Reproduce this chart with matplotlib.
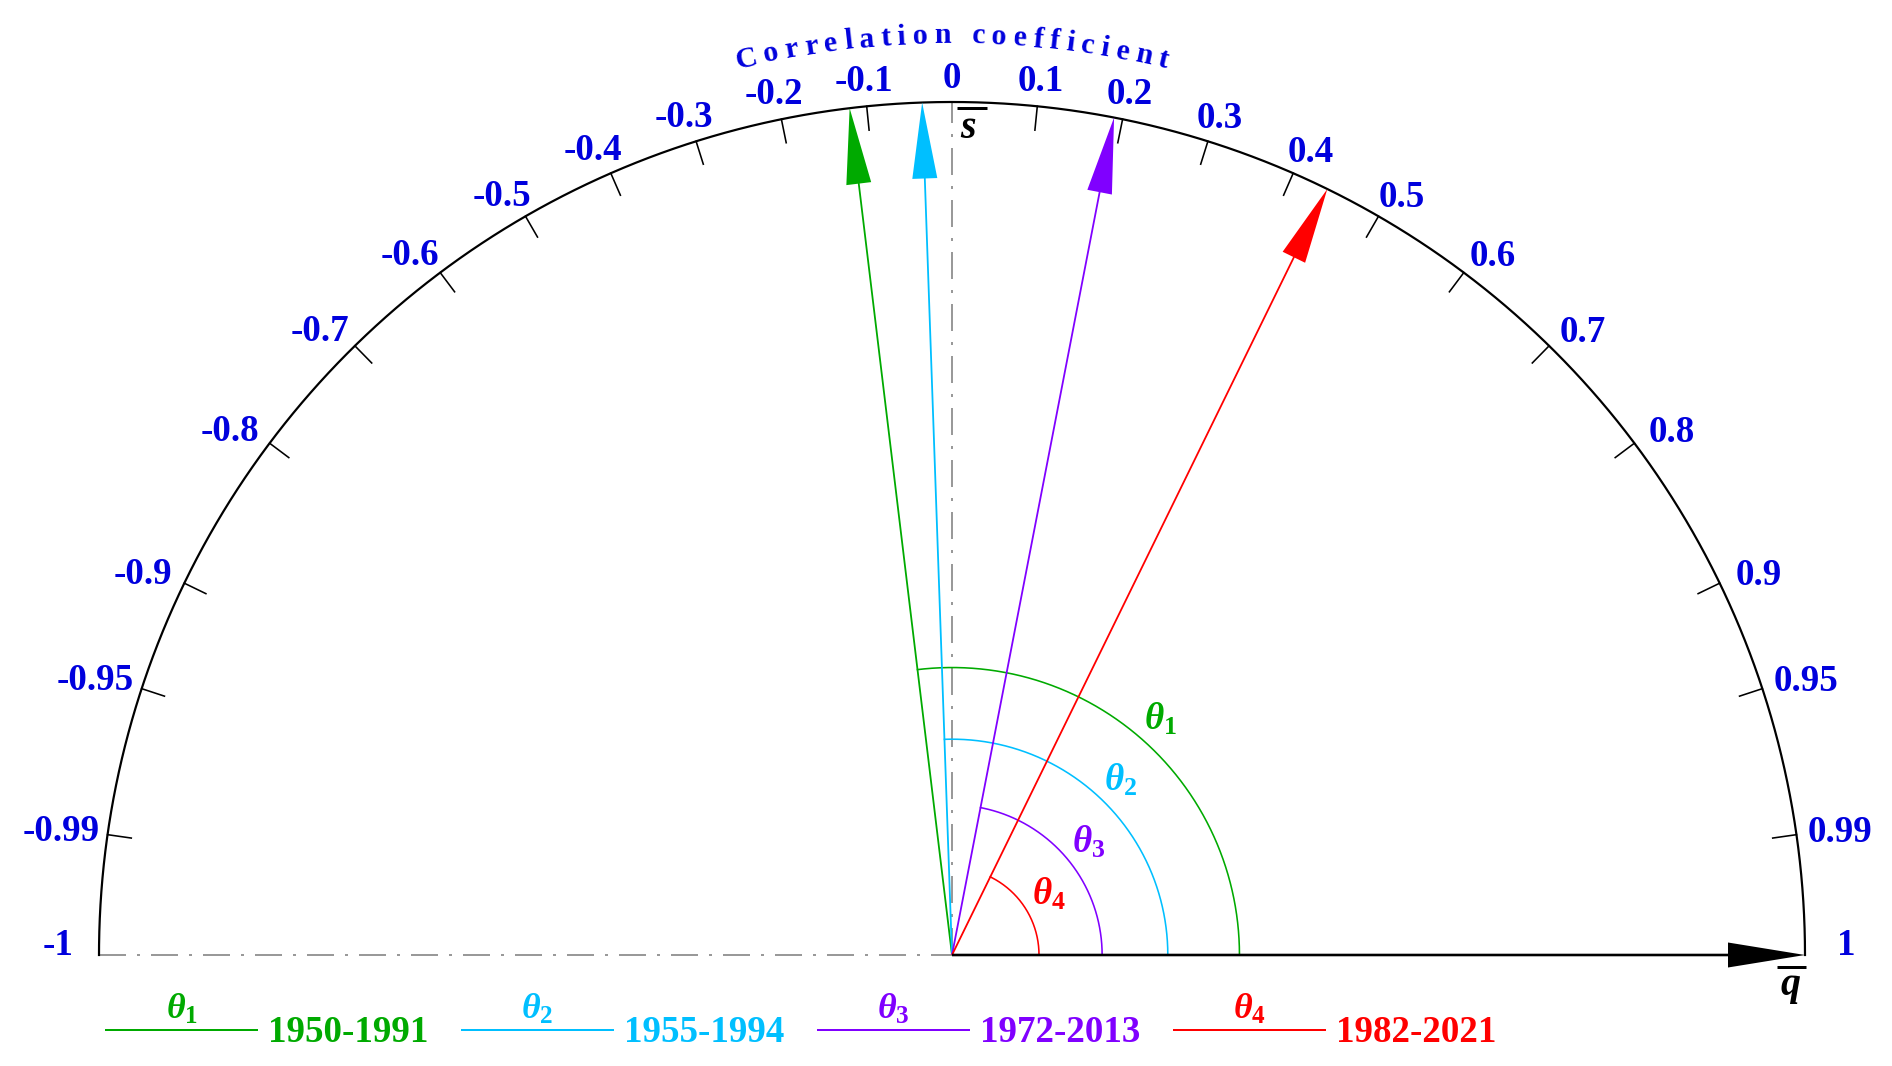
import numpy as np
import matplotlib
matplotlib.use('Agg')
import matplotlib.pyplot as plt
from matplotlib.patches import FancyArrowPatch, ArrowStyle
from matplotlib import font_manager
from matplotlib.font_manager import FontProperties
from matplotlib.ft2font import FT2Font

# ---------------- data ----------------
tick_values = [-1, -0.99, -0.95, -0.9, -0.8, -0.7, -0.6, -0.5, -0.4, -0.3, -0.2, -0.1, 0,
               0.1, 0.2, 0.3, 0.4, 0.5, 0.6, 0.7, 0.8, 0.9, 0.95, 0.99, 1]
tick_labels = ['-1', '-0.99', '-0.95', '-0.9', '-0.8', '-0.7', '-0.6', '-0.5', '-0.4', '-0.3',
               '-0.2', '-0.1', '0', '0.1', '0.2', '0.3', '0.4', '0.5', '0.6', '0.7', '0.8',
               '0.9', '0.95', '0.99', '1']
periods = ['1950-1991', '1955-1994', '1972-2013', '1982-2021']
angle_names = [r'$\theta_{1}$', r'$\theta_{2}$', r'$\theta_{3}$', r'$\theta_{4}$']
correlations = [-0.12, -0.035, 0.19, 0.44]
axis_title = 'Correlation coefficient'

# ---------------- style ----------------
colors = ['#00AA00', '#00BFFF', '#8000FF', '#FF0000']
arc_radii = [0.337, 0.253, 0.176, 0.102]
BLUE = '#0000DD'
GRAY = '#808080'
FAM = ['Liberation Serif', 'DejaVu Serif']

plt.rcParams['font.family'] = FAM
plt.rcParams['lines.scale_dashes'] = False
plt.rcParams['mathtext.fontset'] = 'custom'
plt.rcParams['mathtext.it'] = 'Liberation Serif:italic:bold'
plt.rcParams['mathtext.rm'] = 'Liberation Serif:bold'
plt.rcParams['mathtext.bf'] = 'Liberation Serif:bold'

W, H = 1892, 1066
CX, CY, R = 952, 955, 853
P = 72.0 / 100.0   # px -> pt

fig = plt.figure(figsize=(W / 100, H / 100), dpi=100)
ax = fig.add_axes([0, 0, 1, 1])
ax.set_xlim(-CX / R, (W - CX) / R)
ax.set_ylim(-(H - CY) / R, CY / R)
ax.axis('off')


def px(x, y):
    return (x - CX) / R, (CY - y) / R


bold_path = font_manager.findfont(FontProperties(family='Liberation Serif', weight='bold'))


def advances(s, size_px):
    f = FT2Font(bold_path, hinting_factor=1)
    f.set_size(size_px * P, 100)
    out = []
    for ch in s:
        g = f.load_char(ord(ch))
        out.append(g.linearHoriAdvance / 65536.0)
    return out


# ---------------- reference lines ----------------
dash = (0, (27 * P, 11 * P, 3 * P, 11 * P))
ax.plot([-1, 0], [0, 0], color=GRAY, lw=1.6 * P, ls=dash, zorder=1)
ax.plot([0, 0], [0, 1], color=GRAY, lw=1.6 * P, ls=dash, zorder=1)

# outer semicircle
t = np.linspace(0, np.pi, 800)
ax.plot(np.cos(t), np.sin(t), color='black', lw=2.2 * P, zorder=3)

# ticks (inward)
L = 24 / R
for v in tick_values:
    if v in (-1, 0, 1):
        continue
    dx, dy = v, np.sqrt(1 - v * v)
    ax.plot([dx, dx * (1 - L)], [dy, dy * (1 - L)], color='black', lw=1.6 * P, zorder=3)

# tick labels
TL_PX = 37
for v, lab in zip(tick_values, tick_labels):
    dx, dy = v, np.sqrt(max(0.0, 1 - v * v))
    w = sum(advances(lab, TL_PX))
    if abs(v) == 1:
        ox, oy = 41 * np.sign(v), 13
    else:
        d = 27 + 0.25 * w * abs(dx)
        g = 4 * (dx * dy) ** 2
        ox = d * dx + 9 * g * np.sign(dx)
        oy = d * dy - 9 * g
    oy_base = oy - 0.338 * TL_PX
    ax.annotate(lab, xy=(dx, dy), xytext=(ox * P, oy_base * P), textcoords='offset points',
                ha='center', va='baseline', fontsize=TL_PX * P, fontweight='bold',
                color=BLUE, family=FAM, zorder=5)

# curved title
T_PX = 30
R_T = 912 / R
adv = advances(axis_title, T_PX)
track = (433 - sum(adv)) / (len(adv) - 1)
total = sum(adv) + track * (len(adv) - 1)
pos = -total / 2
for ch, a in zip(axis_title, adv):
    c = pos + a / 2
    phi = c / (R_T * R)
    pos += a + track
    if ch == ' ':
        continue
    ax.text(R_T * np.sin(phi), R_T * np.cos(phi), ch, rotation=-np.degrees(phi),
            rotation_mode='anchor', ha='center', va='baseline', fontsize=T_PX * P,
            fontweight='bold', color=BLUE, family=FAM, zorder=5)

# angle arcs and labels
for r, rad, c, name in zip(correlations, arc_radii, colors, angle_names):
    end = np.arctan2(np.sqrt(1 - r * r), r)
    ta = np.linspace(0, end, 300)
    ax.plot(rad * np.cos(ta), rad * np.sin(ta), color=c, lw=1.6 * P, zorder=2)
    lr = rad + 0.032
    ax.text(lr * np.cos(end / 2), lr * np.sin(end / 2), name, color=c, fontsize=37 * P,
            ha='center', va='center', zorder=5)

# correlation arrows
for r, c in zip(correlations, colors):
    tip = (r, np.sqrt(1 - r * r))
    arr = FancyArrowPatch((0, 0), tip,
                          arrowstyle=ArrowStyle.Simple(head_length=76 * P, head_width=25 * P,
                                                       tail_width=1.8 * P),
                          mutation_scale=1, shrinkA=0, shrinkB=0, fc=c, ec='none', lw=0,
                          zorder=4)
    ax.add_patch(arr)

# q axis arrow
qa = FancyArrowPatch((0, 0), (1, 0),
                     arrowstyle=ArrowStyle.Simple(head_length=77 * P, head_width=25 * P,
                                                  tail_width=2.6 * P),
                     mutation_scale=1, shrinkA=0, shrinkB=0, fc='black', ec='none', lw=0,
                     zorder=4)
ax.add_patch(qa)

# s-bar and q-bar symbols
sx, sy = px(968, 138)
ax.text(sx, sy, 's', fontsize=40 * P, fontweight='bold', fontstyle='italic', family=FAM,
        ha='center', va='baseline', color='black', zorder=5)
b0, b1 = px(957, 108), px(987, 108)
ax.plot([b0[0], b1[0]], [b0[1], b1[1]], color='black', lw=3 * P, solid_capstyle='butt')
qx, qy = px(1790, 995)
ax.text(qx, qy, 'q', fontsize=40 * P, fontweight='bold', fontstyle='italic', family=FAM,
        ha='center', va='baseline', color='black', zorder=5)
b0, b1 = px(1777, 967), px(1806, 967)
ax.plot([b0[0], b1[0]], [b0[1], b1[1]], color='black', lw=3 * P, solid_capstyle='butt')

# legend
for i, (name, per, c) in enumerate(zip(angle_names, periods, colors)):
    x0 = 105 + i * 356
    x1 = x0 + 153
    a0, a1 = px(x0, 1030), px(x1, 1030)
    ax.plot([a0[0], a1[0]], [a0[1], a1[1]], color=c, lw=2 * P, solid_capstyle='butt')
    mx, my = px((x0 + x1) / 2, 1027)
    ax.text(mx, my, name, color=c, fontsize=36 * P, ha='center', va='bottom')
    tx, ty = px(x1 + 10, 1041.7)
    ax.text(tx, ty, per, color=c, fontsize=37 * P, fontweight='bold', family=FAM,
            ha='left', va='baseline')

fig.savefig('out.png', dpi=100)
